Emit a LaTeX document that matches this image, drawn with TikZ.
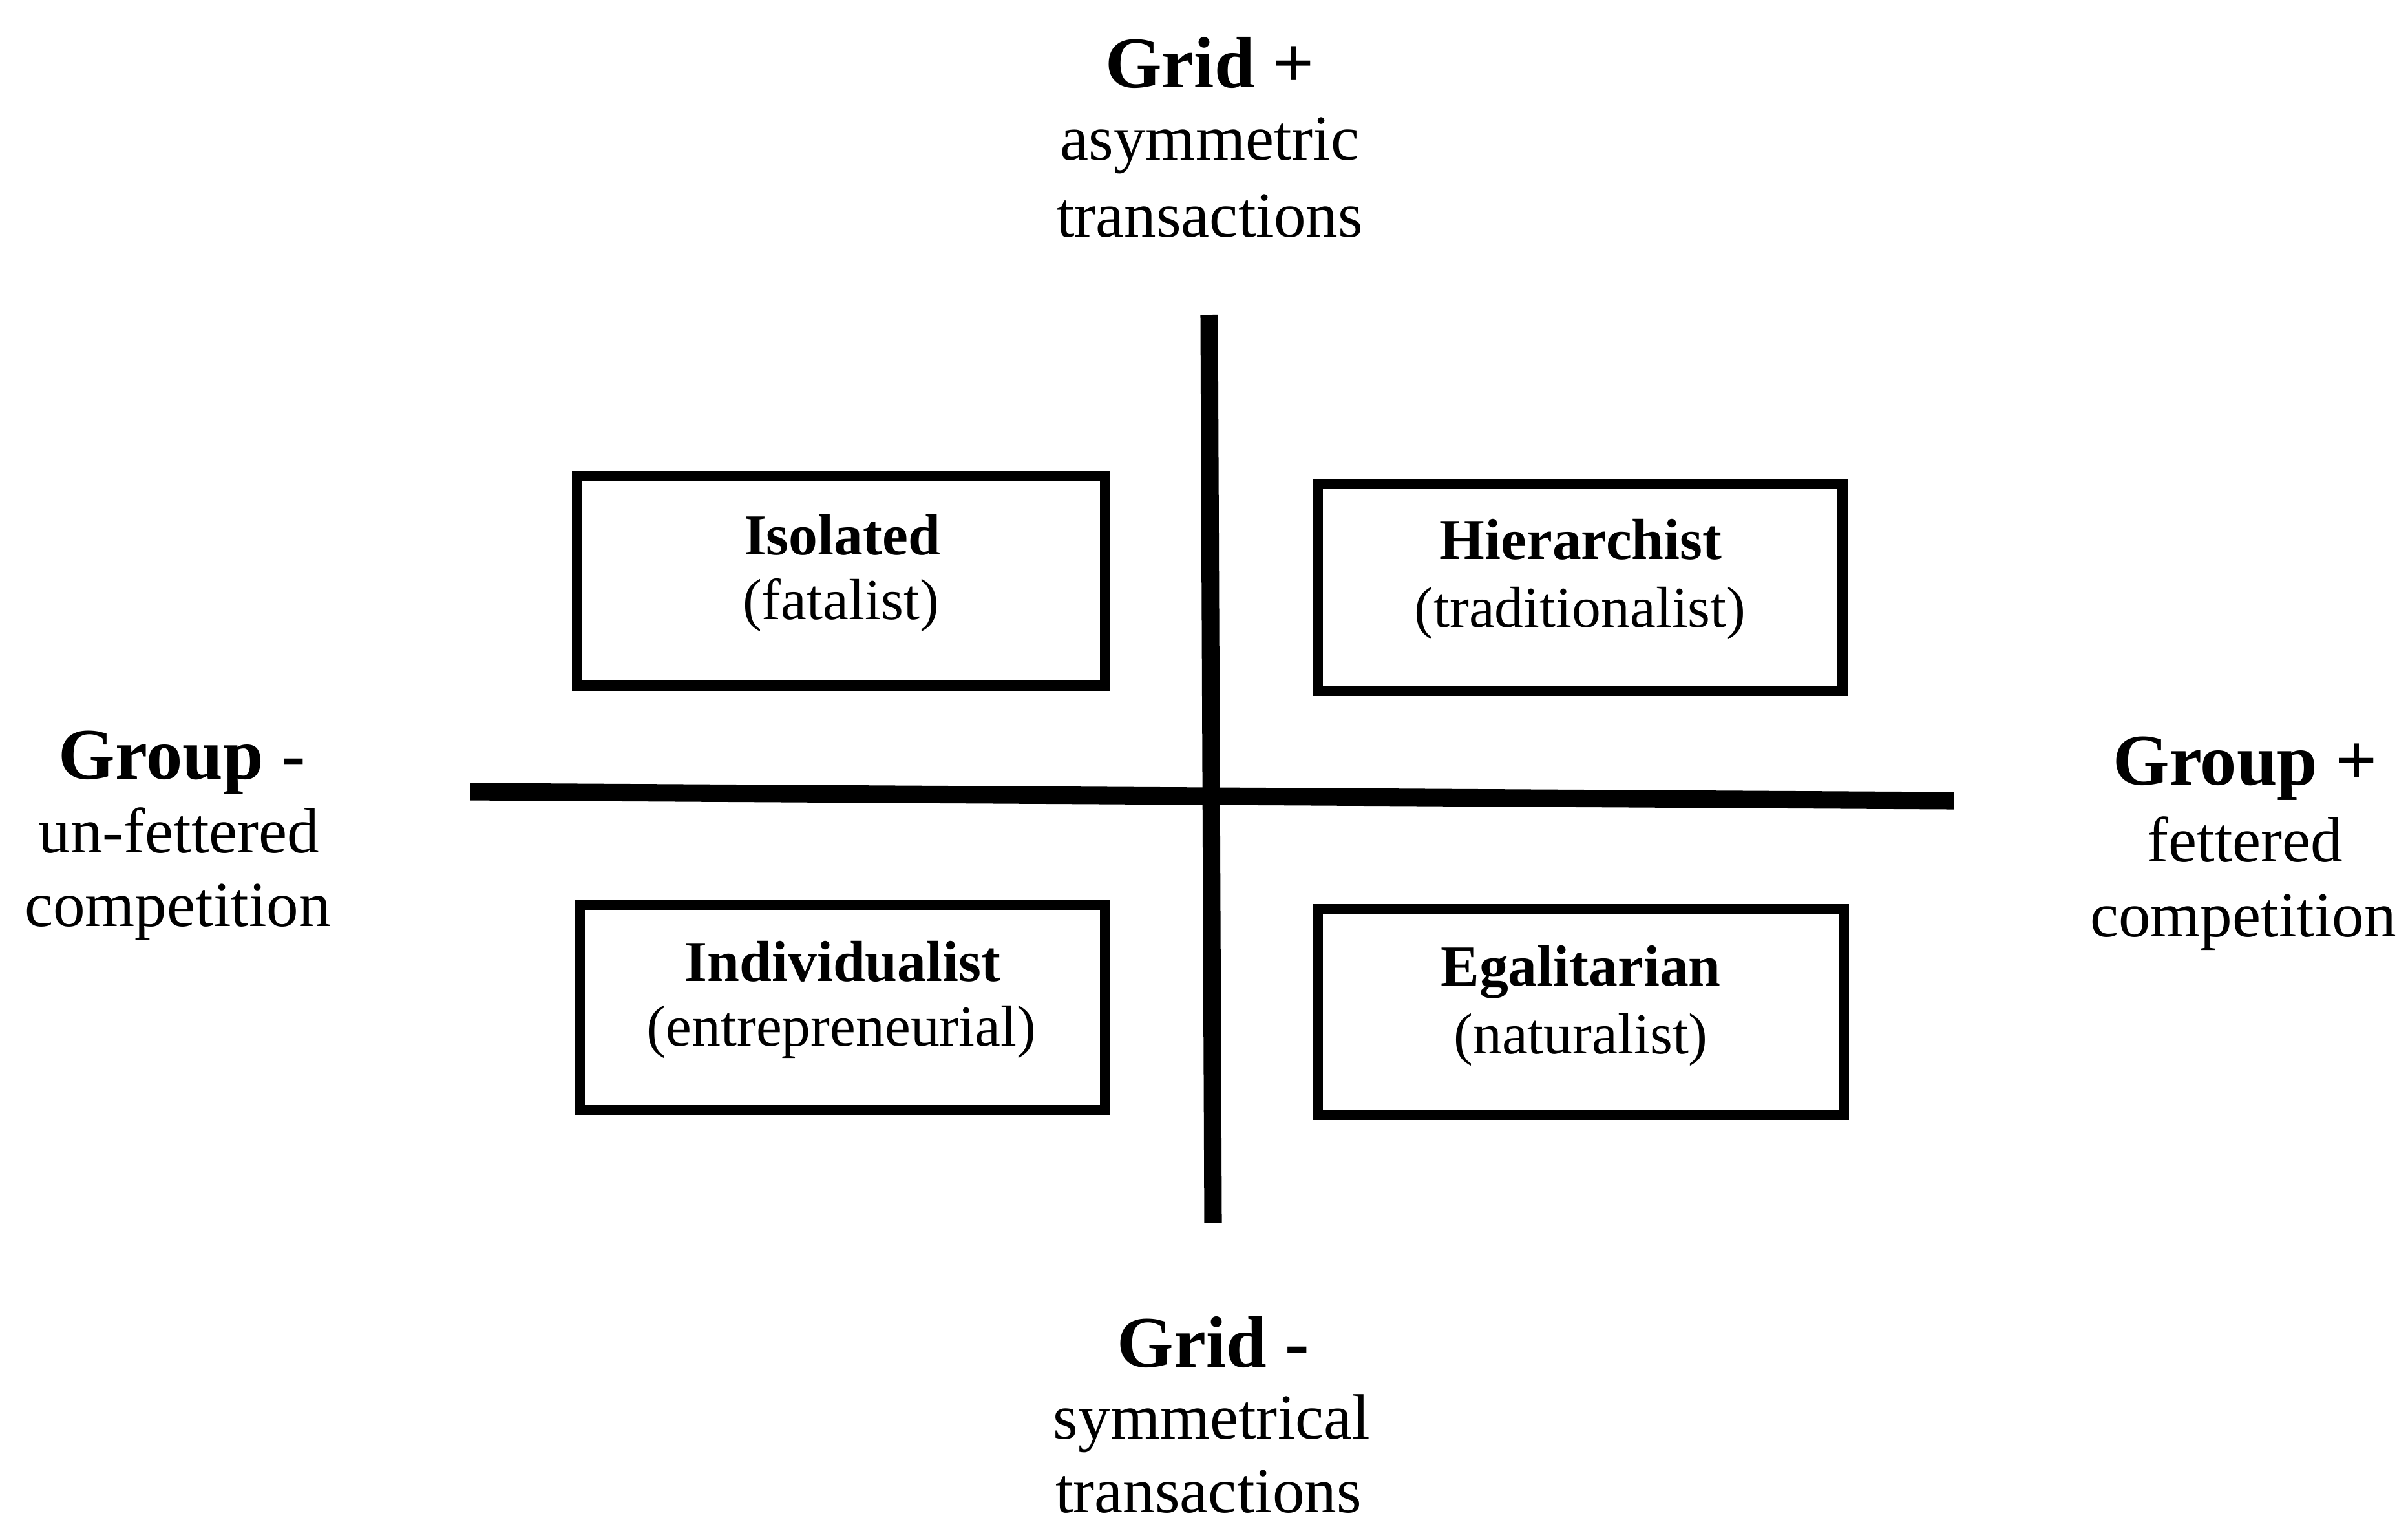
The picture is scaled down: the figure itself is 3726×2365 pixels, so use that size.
\documentclass[tikz,border=0pt]{standalone}
\usepackage{fontspec}
\setmainfont{Liberation Serif}
\begin{document}
\begin{tikzpicture}[x=0.01cm,y=-0.01cm,
  axisline/.style={line width=7.7pt, line cap=butt},
  quadbox/.style={draw, line width=4.5pt, rectangle, inner sep=0pt},
  ttl/.style={font=\bfseries\fontsize{32}{38}\selectfont, anchor=base, inner sep=0pt},
  sub/.style={font=\fontsize{28.2}{34}\selectfont, anchor=base, inner sep=0pt},
  boxhead/.style={font=\bfseries\fontsize{25.5}{30}\selectfont, anchor=base, inner sep=0pt},
  boxsub/.style={font=\fontsize{25.5}{30}\selectfont, anchor=base, inner sep=0pt}]
\useasboundingbox (0,0) rectangle (3726,2365);

% axes
\coordinate (vtop) at (1871,487);
\coordinate (vbot) at (1877,1892);
\coordinate (hleft) at (728,1225);
\coordinate (hright) at (3023,1239);
\draw[axisline] (vtop) -- (vbot);
\draw[axisline] (hleft) -- (hright);

% quadrant boxes
\draw[quadbox] (893,737) rectangle (1710,1061);
\draw[quadbox] (2039,749) rectangle (2851,1069);
\draw[quadbox] (897,1400) rectangle (1710,1718);
\draw[quadbox] (2039,1407) rectangle (2853,1725);

% quadrant labels
\node[boxhead] (isoA) at (1303,858) {Isolated};
\node[boxsub]  (isoB) at (1301,958) {(fatalist)};
\node[boxhead] (hieA) at (2446,865) {Hierarchist};
\node[boxsub]  (hieB) at (2445,970) {(traditionalist)};
\node[boxhead] (indA) at (1304,1518) {Individualist};
\node[boxsub]  (indB) at (1302,1618) {(entrepreneurial)};
\node[boxhead] (egaA) at (2446,1525) {Egalitarian};
\node[boxsub]  (egaB) at (2446,1630) {(naturalist)};

% axis labels: top
\node[ttl] (gpA) at (1872,135) {Grid +};
\node[sub] (gpB) at (1872,247) {asymmetric};
\node[sub] (gpC) at (1872,366) {transactions};
% bottom
\node[ttl] (gmA) at (1877,2115) {Grid -};
\node[sub] (gmB) at (1875,2226) {symmetrical};
\node[sub] (gmC) at (1870,2340) {transactions};
% left
\node[ttl] (lmA) at (282,1205) {Group -};
\node[sub] (lmB) at (277,1319) {un-fettered};
\node[sub] (lmC) at (275,1433) {competition};
% right
\node[ttl] (rpA) at (3474,1214) {Group +};
\node[sub] (rpB) at (3474,1333) {fettered};
\node[sub] (rpC) at (3471,1449) {competition};
\end{tikzpicture}
\end{document}
